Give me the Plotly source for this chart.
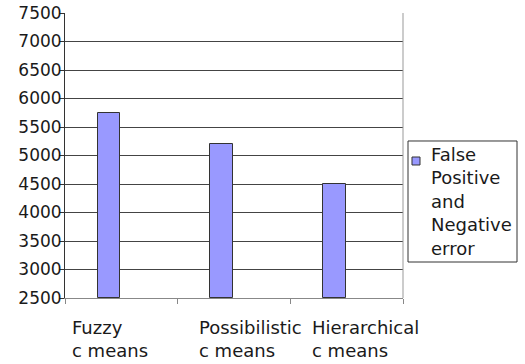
import plotly.graph_objects as go

# Clustering methods and their combined false positive / negative error
methods = ["Fuzzy c means", "Possibilistic c means", "Hierarchical c means"]
method_labels = ["Fuzzy<br>c means", "Possibilistic<br>c means", "Hierarchical<br>c means"]
error_values = [5750, 5200, 4500]
series_name = "False<br>Positive<br>and<br>Negative<br>error"

y_min, y_max, y_step = 2500, 7500, 500

BAR_COLOR = "#9999FF"
EDGE = "#333333"
TEXT = "#1a1a1a"
FONT = "DejaVu Sans"

fig = go.Figure()
fig.add_trace(go.Bar(
    x=methods,
    y=[v - y_min for v in error_values],
    base=y_min,
    width=0.2,
    offset=-0.21,
    marker=dict(color=BAR_COLOR, line=dict(color=EDGE, width=1)),
    showlegend=False,
    hovertemplate="%{x}: %{customdata}<extra></extra>",
    customdata=error_values,
))

# Category labels, left aligned under each group
label_shift = [-51, -37, -37]
for m, lab, dx in zip(methods, method_labels, label_shift):
    fig.add_annotation(
        x=m, xref="x", y=0, yref="paper",
        text=lab, showarrow=False, align="left",
        xanchor="left", yanchor="top", xshift=dx, yshift=-17,
        font=dict(family=FONT, size=18, color=TEXT),
    )

# Legend drawn as a boxed key to the right of the plot
fig.add_shape(type="rect", xref="paper", yref="paper",
              x0=1.0148, x1=1.3373, y0=0.1263, y1=0.5509,
              line=dict(color=EDGE, width=1), fillcolor="white", layer="above")
fig.add_shape(type="rect", xref="paper", yref="paper",
              x0=1.0266, x1=1.0503, y0=0.4667, y1=0.4947,
              line=dict(color=EDGE, width=1), fillcolor=BAR_COLOR, layer="above")
fig.add_annotation(
    x=1.0888, xref="paper", y=0.535, yref="paper",
    text=series_name, showarrow=False, align="left",
    xanchor="left", yanchor="top", xshift=-4, yshift=4,
    font=dict(family=FONT, size=18, color=TEXT),
)

# Right border of the plot area
fig.add_shape(type="line", xref="paper", yref="paper",
              x0=1, x1=1, y0=0, y1=1, line=dict(color="#999999", width=1))

fig.update_layout(
    width=525, height=364,
    margin=dict(l=65, r=122, t=13, b=66),
    paper_bgcolor="white", plot_bgcolor="white",
    bargap=0,
    font=dict(family=FONT, color=TEXT),
    xaxis=dict(
        type="category",
        categoryorder="array", categoryarray=methods,
        range=[-0.5, 2.5], autorange=False,
        tickson="boundaries",
        showticklabels=False,
        ticks="outside", ticklen=5, tickcolor="#888888", tickwidth=1,
        showgrid=False, zeroline=False,
        showline=True, linecolor="#888888", linewidth=1,
        automargin=False,
    ),
    yaxis=dict(
        range=[y_min, y_max], autorange=False,
        tickmode="linear", tick0=y_min, dtick=y_step,
        ticks="outside", ticklen=5, tickcolor=EDGE, tickwidth=1,
        ticklabelstandoff=-6,
        tickfont=dict(family=FONT, size=17, color=TEXT),
        showgrid=True, gridcolor="#444444", gridwidth=1,
        zeroline=False,
        showline=True, linecolor=EDGE, linewidth=1,
        automargin=False,
    ),
)

fig.write_html("out.html")
